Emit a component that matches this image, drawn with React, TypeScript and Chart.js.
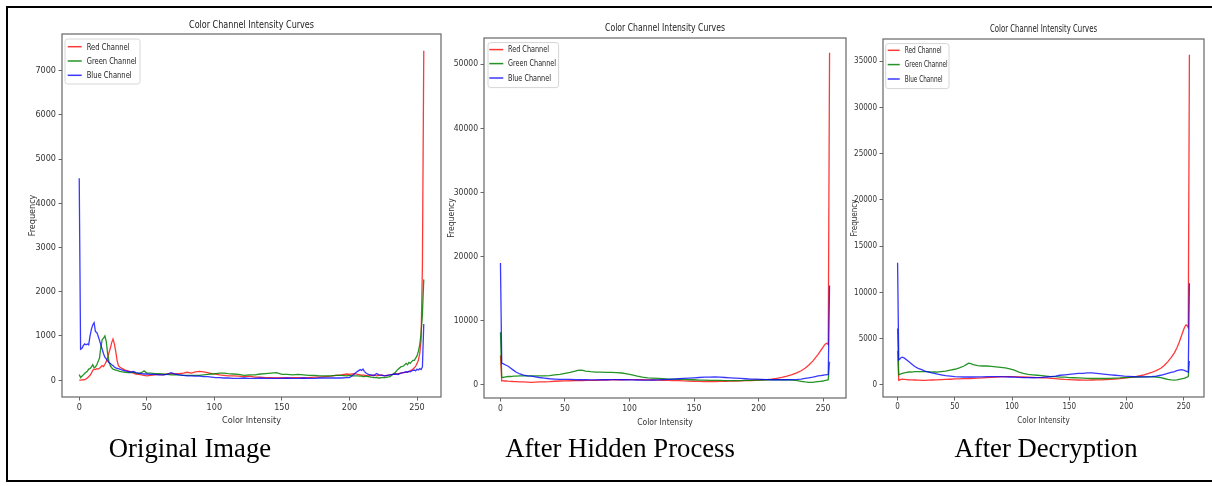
import React, { useEffect, useRef } from "react";
import { Chart, registerables } from "chart.js";

Chart.register(...registerables);

// ---------------- DATA ----------------
const CHART_TITLE = "Color Channel Intensity Curves";
const X_AXIS_TITLE = "Color Intensity";
const Y_AXIS_TITLE = "Frequency";
const SERIES_LABELS = ["Red Channel", "Green Channel", "Blue Channel"];
const CAPTIONS = ["Original Image", "After Hidden Process", "After Decryption"];

const X_TICKS = [0, 50, 100, 150, 200, 250];
const Y_TICKS_ORIGINAL = [0, 1000, 2000, 3000, 4000, 5000, 6000, 7000];
const Y_TICKS_HIDDEN = [0, 10000, 20000, 30000, 40000, 50000];
const Y_TICKS_DECRYPT = [0, 5000, 10000, 15000, 20000, 25000, 30000, 35000];

// intensities sampled for the original image panel
const INTENSITY_ORIGINAL = [
  0, 1, 2, 3, 4, 5, 6, 7, 8, 9, 10, 11, 12, 13, 14, 15, 16, 17, 18, 19, 20, 21, 22, 23, 24, 25, 26, 27, 28, 29, 30,
  32, 34, 36, 38, 40, 42, 44, 46, 48, 50,
  53, 56, 59, 62, 65, 68, 71, 74, 77, 80, 83, 86, 89, 92, 95, 98, 101, 104, 107, 110,
  114, 118, 122, 126, 130, 134, 138, 142, 146, 150, 154, 158, 162, 166, 170, 174, 178, 182, 186, 190, 194, 198,
  200, 202, 204, 206, 208,
  209, 210, 211, 212,
  214, 216, 218, 220, 222, 224, 226, 228, 230, 232, 234, 236, 238, 240, 242,
  243, 244, 245, 246, 247, 248, 249, 250, 251, 252, 253, 254, 255,
];

const RED_ORIGINAL = [
  0, 0, 5, 10, 15, 30, 50, 80, 110, 160, 220, 250, 240, 260, 250, 270, 300, 330, 310, 360, 420, 500, 620, 720, 850, 930, 820, 650, 450, 330, 300,
  260, 230, 210, 190, 160, 140, 130, 120, 110, 100,
  110, 120, 130, 120, 140, 150, 140, 150, 160, 180, 160, 190, 200, 190, 170, 150, 140, 120, 110, 100,
  100, 90, 80, 90, 70, 70, 60, 60, 50, 60, 50, 60, 60, 50, 60, 70, 70, 80, 90, 110, 120, 140,
  130, 140, 150, 130, 120,
  110, 120, 110, 110,
  100, 110, 120, 100, 110, 120, 100, 110, 120, 130, 140, 150, 160, 170, 180,
  190, 200, 220, 230, 250, 280, 320, 380, 450, 600, 900, 2600, 7450,
];

const GREEN_ORIGINAL = [
  130, 60, 90, 120, 150, 180, 200, 250, 260, 300, 350, 280, 300, 350, 420, 500, 750, 920, 950, 1000, 880, 600, 420, 330, 280, 250, 240, 230, 220, 210, 200,
  190, 180, 170, 170, 180, 160, 150, 170, 210, 160,
  160, 150, 150, 140, 130, 120, 120, 120, 110, 110, 110, 110, 110, 120, 130, 140, 150, 160, 160, 150,
  140, 130, 110, 120, 120, 140, 150, 160, 170, 130, 130, 120, 130, 120, 110, 110, 100, 100, 100, 110, 110, 100,
  110, 100, 100, 100, 90,
  90, 80, 80, 90,
  80, 70, 60, 60, 50, 60, 60, 70, 80, 130, 180, 250, 300, 320, 380,
  350, 400, 380, 420, 450, 450, 500, 550, 650, 800, 1050, 1500, 2280,
];

const BLUE_ORIGINAL = [
  4570, 700, 720, 780, 820, 800, 820, 800, 1000, 1150, 1250, 1300, 1100, 1080, 1000, 900, 800, 700, 600, 520, 480, 440, 400, 380, 350, 330, 300, 280, 270, 260, 250,
  230, 210, 200, 180, 200, 170, 160, 150, 140, 140,
  130, 130, 120, 120, 130, 170, 140, 120, 110, 100, 100, 90, 90, 80, 80, 70, 60, 60, 50, 50,
  40, 40, 50, 40, 40, 50, 40, 40, 40, 40, 50, 40, 40, 50, 40, 40, 50, 50, 50, 50, 50, 60,
  60, 100, 150, 200, 240,
  220, 250, 200, 170,
  130, 120, 100, 150, 120, 110, 100, 110, 120, 130, 140, 130, 160, 170, 190,
  180, 200, 190, 210, 220, 230, 210, 250, 230, 260, 240, 300, 1270,
];

// intensities sampled for the processed panels
const INTENSITY_PROCESSED = [
  0, 1, 2, 3, 4, 6, 8, 10, 12, 15, 18, 21, 24, 27, 30,
  34, 38, 42, 46, 50, 54, 58, 60, 62, 64, 66,
  70, 74, 78, 82, 86, 90, 94, 98, 102, 106, 110, 114, 118, 122, 126, 130, 134, 138, 142, 146, 150,
  154, 158, 162, 166, 170, 174, 178, 182, 186, 190, 194, 198, 202, 206, 210, 214, 218, 222, 226, 230,
  233, 236, 239, 242, 244, 246, 248, 250, 251, 252, 253, 254, 255,
];

const RED_HIDDEN = [
  4600, 600, 650, 600, 620, 580, 550, 520, 500, 480, 450, 420, 400, 420, 450,
  480, 500, 560, 600, 620, 640, 660, 650, 680, 660, 700,
  700, 720, 740, 760, 780, 800, 800, 820, 830, 820, 800, 780, 760, 740, 720, 700, 680, 660, 620, 580, 560,
  540, 520, 520, 520, 540, 560, 580, 600, 620, 650, 680, 720, 760, 820, 900, 1000, 1150, 1350, 1600, 1900,
  2200, 2600, 3100, 3700, 4200, 4700, 5300, 5900, 6200, 6400, 6500, 6300, 51800,
];

const GREEN_HIDDEN = [
  8200, 1200, 1150, 1200, 1250, 1300, 1300, 1350, 1350, 1400, 1400, 1400, 1400, 1400, 1400,
  1400, 1450, 1550, 1650, 1800, 1950, 2150, 2250, 2300, 2250, 2150,
  2050, 2000, 2000, 1950, 1950, 1900, 1850, 1700, 1550, 1350, 1200, 1100, 1050, 1000, 950, 900, 900, 850, 850, 800, 800,
  750, 750, 700, 700, 700, 650, 650, 650, 650, 700, 700, 750, 750, 800, 800, 800, 800, 800, 750, 650,
  550, 450, 400, 400, 450, 500, 550, 600, 650, 700, 750, 800, 3600,
];

const BLUE_HIDDEN = [
  19000, 3400, 3300, 3200, 3100, 2900, 2600, 2300, 2000, 1700, 1500, 1400, 1350, 1250, 1150,
  1050, 950, 900, 850, 850, 850, 800, 800, 800, 800, 800,
  780, 780, 800, 800, 820, 820, 800, 800, 780, 760, 740, 740, 760, 780, 820, 860, 900, 950, 1000, 1050, 1100,
  1150, 1200, 1200, 1250, 1200, 1150, 1100, 1050, 1000, 950, 900, 880, 850, 830, 800, 800, 800, 800, 820, 850,
  900, 1000, 1100, 1200, 1300, 1400, 1450, 1500, 1550, 1550, 1600, 1600, 15500,
];

const RED_DECRYPT = [
  3700, 500, 550, 600, 620, 600, 580, 560, 550, 540, 520, 500, 500, 520, 540,
  560, 580, 600, 620, 650, 660, 680, 690, 700, 700, 720,
  740, 760, 800, 820, 850, 880, 900, 900, 900, 880, 860, 840, 820, 800, 780, 760, 720, 680, 640, 600, 580,
  560, 540, 530, 530, 540, 550, 560, 580, 600, 640, 680, 740, 800, 860, 950, 1050, 1200, 1350, 1550, 1800,
  2100, 2500, 2950, 3500, 4000, 4600, 5300, 6000, 6300, 6500, 6400, 6200, 35700,
];

const GREEN_DECRYPT = [
  6100, 1100, 1150, 1200, 1250, 1300, 1350, 1400, 1400, 1450, 1450, 1450, 1450, 1450, 1400,
  1400, 1450, 1500, 1600, 1700, 1850, 2050, 2200, 2350, 2300, 2200,
  2100, 2050, 2050, 2000, 1950, 1900, 1850, 1750, 1600, 1400, 1250, 1150, 1100, 1050, 1000, 950, 900, 900, 850, 850, 800,
  780, 760, 740, 720, 700, 700, 700, 700, 720, 740, 760, 800, 820, 850, 860, 880, 880, 880, 860, 800,
  700, 600, 550, 520, 550, 600, 650, 700, 750, 800, 850, 900, 2600,
];

const BLUE_DECRYPT = [
  13200, 2700, 2800, 2950, 3000, 2900, 2700, 2500, 2300, 2000, 1800, 1650, 1500, 1400, 1300,
  1200, 1100, 1000, 950, 900, 880, 860, 860, 860, 860, 860,
  880, 880, 900, 900, 900, 900, 880, 860, 840, 820, 800, 800, 780, 800, 820, 860, 900, 950, 1050, 1100, 1150,
  1200, 1250, 1250, 1300, 1300, 1250, 1200, 1150, 1100, 1050, 1000, 950, 920, 900, 880, 880, 880, 900, 950, 1050,
  1150, 1250, 1350, 1450, 1550, 1600, 1650, 1600, 1550, 1500, 1450, 1400, 11000,
];

// ---------------- STYLE / LAYOUT ----------------
const FONT = "'DejaVu Sans Condensed', 'Liberation Sans Narrow', 'DejaVu Sans', sans-serif";
const TEXT_COLOR = "#333";
const SPINE_COLOR = "#666";
const SERIES_COLORS = ["rgba(255,0,0,0.78)", "rgba(0,128,0,0.85)", "rgba(0,0,255,0.78)"];

type PanelCfg = {
  xs: number[];
  series: number[][];
  yTicks: number[];
  yMin: number;
  yMax: number;
  canvas: { left: number; top: number; width: number; height: number };
  plot: { left: number; top: number; right: number; bottom: number };
  yTitlePad: number;
  xTitlePad: number;
  titleGap: number;
  titleSize: number;
  font: number;
  legend: { dx: number; dy: number; w: number; h: number; rows: number[]; lx0: number; lx1: number; tx: number; fs: number };
  caption: string;
  captionX: number;
};

const PANELS: PanelCfg[] = [
  {
    xs: INTENSITY_ORIGINAL,
    series: [RED_ORIGINAL, GREEN_ORIGINAL, BLUE_ORIGINAL],
    yTicks: Y_TICKS_ORIGINAL,
    yMin: -380,
    yMax: 7830,
    canvas: { left: 14, top: 10, width: 440, height: 430 },
    plot: { left: 62, top: 34, right: 441, bottom: 397 },
    yTitlePad: 13,
    xTitlePad: 14,
    titleGap: 9,
    titleSize: 11,
    font: 9,
    legend: { dx: 3, dy: 5, w: 75, h: 45, rows: [12.7, 27, 41.3], lx0: 5.7, lx1: 19.7, tx: 24.7, fs: 9.5 },
    caption: CAPTIONS[0],
    captionX: 190,
  },
  {
    xs: INTENSITY_PROCESSED,
    series: [RED_HIDDEN, GREEN_HIDDEN, BLUE_HIDDEN],
    yTicks: Y_TICKS_HIDDEN,
    yMin: -2050,
    yMax: 54100,
    canvas: { left: 440, top: 12, width: 412, height: 430 },
    plot: { left: 484, top: 38, right: 846, bottom: 398 },
    yTitlePad: 7,
    xTitlePad: 14,
    titleGap: 9.7,
    titleSize: 11,
    font: 8.5,
    legend: { dx: 4, dy: 4.6, w: 70.6, h: 45, rows: [11.6, 25.6, 40], lx0: 5.3, lx1: 19.3, tx: 24, fs: 9 },
    caption: CAPTIONS[1],
    captionX: 620,
  },
  {
    xs: INTENSITY_PROCESSED,
    series: [RED_DECRYPT, GREEN_DECRYPT, BLUE_DECRYPT],
    yTicks: Y_TICKS_DECRYPT,
    yMin: -1300,
    yMax: 37400,
    canvas: { left: 842, top: 12, width: 368, height: 430 },
    plot: { left: 883, top: 39, right: 1204, bottom: 397 },
    yTitlePad: 8.3,
    xTitlePad: 16,
    titleGap: 10,
    titleSize: 11,
    font: 8,
    legend: { dx: 2.7, dy: 4.6, w: 63.3, h: 45, rows: [11.3, 25.6, 40], lx0: 4.7, lx1: 16.7, tx: 21.7, fs: 9 },
    caption: CAPTIONS[2],
    captionX: 1046,
  },
];

function roundRect(ctx: CanvasRenderingContext2D, x: number, y: number, w: number, h: number, r: number) {
  ctx.beginPath();
  ctx.moveTo(x + r, y);
  ctx.lineTo(x + w - r, y);
  ctx.quadraticCurveTo(x + w, y, x + w, y + r);
  ctx.lineTo(x + w, y + h - r);
  ctx.quadraticCurveTo(x + w, y + h, x + w - r, y + h);
  ctx.lineTo(x + r, y + h);
  ctx.quadraticCurveTo(x, y + h, x, y + h - r);
  ctx.lineTo(x, y + r);
  ctx.quadraticCurveTo(x, y, x + r, y);
  ctx.closePath();
}

// draw text squeezed horizontally so it fits the target width
function fitText(ctx: CanvasRenderingContext2D, text: string, x: number, y: number, width: number, align: "left" | "center") {
  const natural = ctx.measureText(text).width;
  const sx = natural > 0 ? width / natural : 1;
  ctx.save();
  ctx.translate(x, y);
  ctx.scale(sx, 1);
  ctx.textAlign = align;
  ctx.fillText(text, 0, 0);
  ctx.restore();
}

const TITLE_WIDTHS = [125, 120, 107];
const LEGEND_WIDTHS = [
  [43, 50, 45],
  [41, 48, 43],
  [37, 43, 38],
];

function Panel({ cfg, index }: { cfg: PanelCfg; index: number }) {
  const ref = useRef<HTMLCanvasElement | null>(null);
  useEffect(() => {
    if (!ref.current) return;
    const { canvas, plot } = cfg;
    const yWidth = plot.left - canvas.left;
    const xHeight = canvas.top + canvas.height - plot.bottom;

    const decor = {
      id: "decor",
      afterDraw(chart: any) {
        const ctx = chart.ctx as CanvasRenderingContext2D;
        const a = chart.chartArea;
        ctx.save();
        // frame (all four spines)
        ctx.strokeStyle = SPINE_COLOR;
        ctx.lineWidth = 1.2;
        ctx.strokeRect(a.left, a.top, a.right - a.left, a.bottom - a.top);
        // title
        ctx.fillStyle = "#222";
        ctx.font = `${cfg.titleSize}px ${FONT}`;
        ctx.textBaseline = "middle";
        fitText(ctx, CHART_TITLE, (a.left + a.right) / 2, a.top - cfg.titleGap, TITLE_WIDTHS[index], "center");
        // legend
        const L = cfg.legend;
        const bx = a.left + L.dx;
        const by = a.top + L.dy;
        roundRect(ctx, bx, by, L.w, L.h, 2.5);
        ctx.fillStyle = "rgba(255,255,255,0.85)";
        ctx.fill();
        ctx.strokeStyle = "#d6d6d6";
        ctx.lineWidth = 1;
        ctx.stroke();
        ctx.font = `${L.fs}px ${FONT}`;
        ctx.textBaseline = "middle";
        SERIES_LABELS.forEach((lab, i) => {
          const yy = a.top + L.rows[i];
          ctx.strokeStyle = SERIES_COLORS[i];
          ctx.lineWidth = 1.5;
          ctx.beginPath();
          ctx.moveTo(a.left + L.lx0, yy);
          ctx.lineTo(a.left + L.lx1, yy);
          ctx.stroke();
          ctx.fillStyle = "#222";
          fitText(ctx, lab, a.left + L.tx, yy + 0.5, LEGEND_WIDTHS[index][i], "left");
        });
        ctx.restore();
      },
    };

    const tickFont = { family: FONT, size: cfg.font };
    const chart = new Chart(ref.current, {
      type: "line",
      data: {
        datasets: cfg.series.map((ys, i) => ({
          label: SERIES_LABELS[i],
          data: cfg.xs.map((x, j) => ({ x, y: ys[j] })),
          borderColor: SERIES_COLORS[i],
          backgroundColor: SERIES_COLORS[i],
          borderWidth: 1.3,
          pointRadius: 0,
          tension: 0,
          fill: false,
          order: 3 - i,
        })),
      },
      options: {
        animation: false,
        responsive: false,
        devicePixelRatio: 1,
        layout: {
          padding: {
            left: 0,
            bottom: 0,
            top: plot.top - canvas.top,
            right: canvas.left + canvas.width - plot.right,
          },
        },
        plugins: {
          legend: { display: false },
          tooltip: { enabled: false },
          title: { display: false },
        },
        scales: {
          x: {
            type: "linear",
            min: -12.75,
            max: 267.75,
            afterBuildTicks: (s: any) => {
              s.ticks = X_TICKS.map((v) => ({ value: v }));
            },
            afterFit: (s: any) => {
              s.height = xHeight;
            },
            ticks: {
              font: tickFont,
              color: TEXT_COLOR,
              padding: 2,
              maxRotation: 0,
              autoSkip: false,
              callback: (v: any) => String(v),
            },
            grid: { drawOnChartArea: false, drawTicks: true, tickLength: 3.5, color: SPINE_COLOR },
            border: { display: false },
            title: {
              display: true,
              text: X_AXIS_TITLE,
              font: tickFont,
              color: TEXT_COLOR,
              padding: { top: 0, bottom: cfg.xTitlePad },
            },
          },
          y: {
            type: "linear",
            min: cfg.yMin,
            max: cfg.yMax,
            afterBuildTicks: (s: any) => {
              s.ticks = cfg.yTicks.map((v) => ({ value: v }));
            },
            afterFit: (s: any) => {
              s.width = yWidth;
            },
            ticks: {
              font: tickFont,
              color: TEXT_COLOR,
              padding: 2.5,
              autoSkip: false,
              callback: (v: any) => String(v),
            },
            grid: { drawOnChartArea: false, drawTicks: true, tickLength: 3.5, color: SPINE_COLOR },
            border: { display: false },
            title: {
              display: true,
              text: Y_AXIS_TITLE,
              font: tickFont,
              color: TEXT_COLOR,
              padding: { top: cfg.yTitlePad, bottom: 0 },
            },
          },
        },
      },
      plugins: [decor],
    } as any);
    return () => chart.destroy();
  }, [cfg, index]);

  const { canvas } = cfg;
  return (
    <>
      <canvas
        ref={ref}
        width={canvas.width}
        height={canvas.height}
        style={{
          position: "absolute",
          left: canvas.left,
          top: canvas.top,
          width: canvas.width,
          height: canvas.height,
        }}
      />
      <div
        style={{
          position: "absolute",
          left: cfg.captionX - 200,
          width: 400,
          top: 435,
          textAlign: "center",
          fontFamily: "'Liberation Serif', 'Times New Roman', serif",
          fontSize: 26.7,
          lineHeight: "26.7px",
          color: "#000",
          whiteSpace: "nowrap",
        }}
      >
        {cfg.caption}
      </div>
    </>
  );
}

export default function App() {
  return (
    <div
      style={{
        position: "absolute",
        left: 0,
        top: 0,
        width: 1212,
        height: 486,
        background: "#fff",
        overflow: "hidden",
      }}
    >
      <div
        style={{
          position: "absolute",
          left: 6,
          top: 6,
          width: 1220,
          height: 476,
          borderLeft: "2px solid #000",
          borderTop: "2px solid #000",
          borderBottom: "2px solid #000",
          boxSizing: "border-box",
        }}
      />
      {PANELS.map((p, i) => (
        <Panel key={i} cfg={p} index={i} />
      ))}
    </div>
  );
}
